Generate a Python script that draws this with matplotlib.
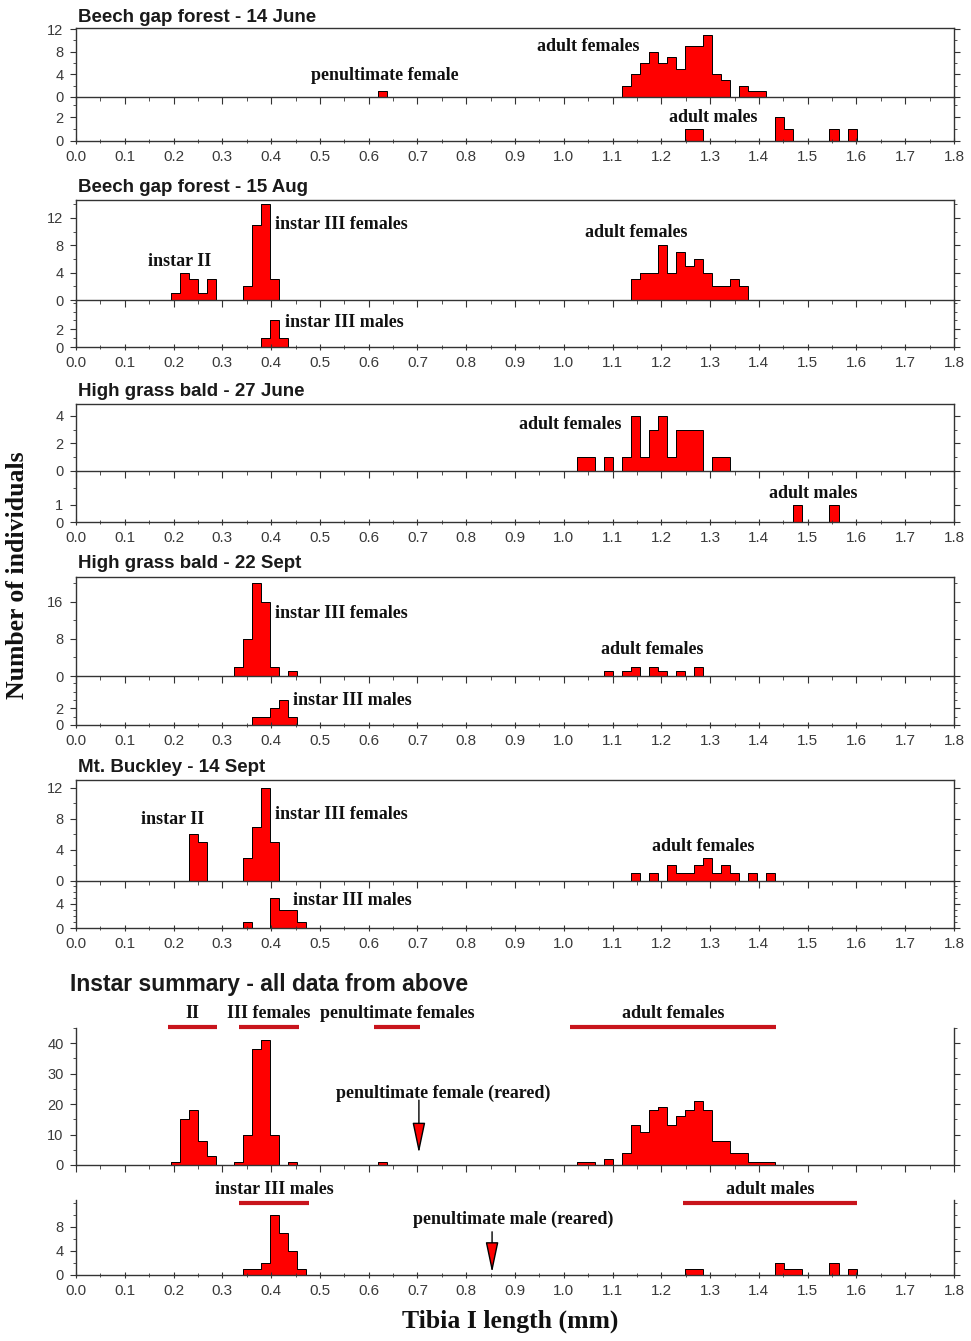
import numpy as np
import matplotlib
matplotlib.use('Agg')
import matplotlib.pyplot as plt
from matplotlib.ticker import MultipleLocator, FormatStrFormatter, NullFormatter

# Tibia lengths were measured in ocular micrometer units; one unit in mm
MM_PER_UNIT = 0.0185

##################################################
# Counts per micrometer unit (u = unit, n = individuals)
##################################################

# Beech gap forest - 14 June
bg_jun_fem_u = [34, 61, 62, 63, 64, 65, 66, 67, 68, 69, 70, 71, 72, 74, 75, 76]
bg_jun_fem_n = [1, 2, 4, 6, 8, 6, 7, 5, 9, 9, 11, 4, 3, 2, 1, 1]
bg_jun_mal_u = [68, 69, 78, 79, 84, 86]
bg_jun_mal_n = [1, 1, 2, 1, 1, 1]

# Beech gap forest - 15 Aug
bg_aug_fem_u = [11, 12, 13, 14, 15, 19, 20, 21, 22,
                62, 63, 64, 65, 66, 67, 68, 69, 70, 71, 72, 73, 74]
bg_aug_fem_n = [1, 4, 3, 1, 3, 2, 11, 14, 3,
                3, 4, 4, 8, 4, 7, 5, 6, 4, 2, 2, 3, 2]
bg_aug_mal_u = [21, 22, 23]
bg_aug_mal_n = [1, 3, 1]

# High grass bald - 27 June
hg_jun_fem_u = [56, 57, 59, 61, 62, 63, 64, 65, 66, 67, 68, 69, 71, 72]
hg_jun_fem_n = [1, 1, 1, 1, 4, 1, 3, 4, 1, 3, 3, 3, 1, 1]
hg_jun_mal_u = [80, 84]
hg_jun_mal_n = [1, 1]

# High grass bald - 22 Sept
hg_sep_fem_u = [18, 19, 20, 21, 22, 24, 59, 61, 62, 64, 65, 67, 69]
hg_sep_fem_n = [2, 8, 20, 16, 2, 1, 1, 1, 2, 2, 1, 1, 2]
hg_sep_mal_u = [20, 21, 22, 23, 24]
hg_sep_mal_n = [1, 1, 2, 3, 1]

# Mt. Buckley - 14 Sept
mb_sep_fem_u = [13, 14, 19, 20, 21, 22,
                62, 64, 66, 67, 68, 69, 70, 71, 72, 73, 75, 77]
mb_sep_fem_n = [6, 5, 3, 7, 12, 5,
                1, 1, 2, 1, 1, 2, 3, 1, 2, 1, 1, 1]
mb_sep_mal_u = [19, 22, 23, 24, 25]
mb_sep_mal_n = [1, 5, 3, 3, 1]

# Instar summary - all data
sum_fem_u = [11, 12, 13, 14, 15, 18, 19, 20, 21, 22, 24, 34, 56, 57, 59,
             61, 62, 63, 64, 65, 66, 67, 68, 69, 70, 71, 72, 73, 74, 75, 76, 77]
sum_fem_n = [1, 15, 18, 8, 3, 1, 10, 38, 41, 10, 1, 1, 1, 1, 2,
             4, 13, 11, 18, 19, 13, 16, 18, 21, 18, 8, 8, 4, 4, 1, 1, 1]
sum_mal_u = [19, 20, 21, 22, 23, 24, 25, 68, 69, 78, 79, 80, 84, 86]
sum_mal_n = [1, 1, 2, 10, 7, 4, 1, 1, 1, 2, 1, 1, 2, 1]

# Instar size ranges (mm) marked over the summary
fem_ranges = [('II', 0.189, 0.289), ('III females', 0.334, 0.457),
              ('penultimate females', 0.611, 0.706), ('adult females', 1.013, 1.435)]
mal_ranges = [('instar III males', 0.334, 0.478), ('adult males', 1.244, 1.602)]
reared_female_mm = 0.703
reared_male_mm = 0.853

##################################################
# Figure layout (pixel based)
##################################################
W, H = 971, 1341
fig = plt.figure(figsize=(W / 100, H / 100), dpi=100)

SANS = 'Liberation Sans'
SERIF = 'Liberation Serif'
TICK_COL = '#3a3a3a'
LEFT, RIGHT = 76, 954
ARROW = dict(arrowstyle='-|>,head_width=0.4,head_length=1.9',
             fc='#ff0000', ec='black', lw=1.0, shrinkA=0, shrinkB=0)


def make_axes(top, bottom):
    ax = fig.add_axes([LEFT / W, 1 - bottom / H, (RIGHT - LEFT) / W, (bottom - top) / H])
    ax.patch.set_alpha(0)
    return ax


def draw_hist(ax, units, counts):
    lo, hi = min(units), max(units)
    dense = np.zeros(hi - lo + 1)
    dense[np.array(units) - lo] = counts
    edges = (np.arange(lo, hi + 2) - 0.5) * MM_PER_UNIT
    ax.stairs(dense, edges, fill=True, color='#ff0000', lw=0)
    ax.stairs(dense, edges, color='black', lw=0.7, baseline=0)


def style_axes(ax, ymax, yticks, ystep, show_xlabels, upper, top_spine=True):
    ax.set_xlim(0, 1.8)
    ax.set_ylim(0, ymax)
    ax.set_yticks(yticks)
    ax.yaxis.set_minor_locator(MultipleLocator(ystep))
    ax.xaxis.set_major_locator(MultipleLocator(0.1))
    ax.xaxis.set_minor_locator(MultipleLocator(0.05))
    if show_xlabels:
        ax.xaxis.set_major_formatter(FormatStrFormatter('%.1f'))
    else:
        ax.xaxis.set_major_formatter(NullFormatter())
    for s in ax.spines.values():
        s.set_color('#333333')
        s.set_linewidth(1.0)
    ax.spines['top'].set_visible(top_spine)
    ax.tick_params(axis='y', which='both', left=True, right=True, direction='out',
                   labelsize=10.5, labelcolor=TICK_COL, color='#333333', pad=5)
    ax.tick_params(axis='y', which='major', length=4)
    ax.tick_params(axis='y', which='minor', length=2.5)
    ax.tick_params(axis='x', which='both', direction='out' if upper else 'inout',
                   labelsize=11, labelcolor=TICK_COL, color='#333333', pad=4)
    ax.tick_params(axis='x', which='major', length=5)
    ax.tick_params(axis='x', which='minor', length=3)
    for lab in ax.get_xticklabels() + ax.get_yticklabels():
        lab.set_fontfamily(SANS)


def label(ax, x, y, s, ha='center', size=13):
    ax.text(x, y, s, ha=ha, va='center', fontsize=size, fontfamily=SERIF,
            fontweight='bold', color='#111111', clip_on=False)


def title(y, s, size=13.5, x=78):
    fig.text(x / W, 1 - y / H, s, ha='left', va='center', fontsize=size,
             fontfamily=SANS, fontweight='bold', color='#1a1a1a')


##################################################
# Beech gap forest - 14 June
##################################################
title(17, 'Beech gap forest - 14 June')
ax = make_axes(28, 97)
draw_hist(ax, bg_jun_fem_u, bg_jun_fem_n)
style_axes(ax, 12.2, [0, 4, 8, 12], 2, False, True)
label(ax, 0.633, 3.8, 'penultimate female')
label(ax, 1.05, 9.0, 'adult females')
ax = make_axes(97, 141)
draw_hist(ax, bg_jun_mal_u, bg_jun_mal_n)
style_axes(ax, 3.67, [0, 2], 1, True, False, top_spine=False)
label(ax, 1.306, 2.0, 'adult males')

##################################################
# Beech gap forest - 15 Aug
##################################################
title(188, 'Beech gap forest - 15 Aug')
ax = make_axes(200, 300)
draw_hist(ax, bg_aug_fem_u, bg_aug_fem_n)
style_axes(ax, 14.6, [0, 4, 8, 12], 2, False, True)
label(ax, 0.408, 11.0, 'instar III females', ha='left')
label(ax, 0.213, 5.6, 'instar II')
label(ax, 1.148, 9.8, 'adult females')
ax = make_axes(300, 347)
draw_hist(ax, bg_aug_mal_u, bg_aug_mal_n)
style_axes(ax, 5.3, [0, 2], 1, True, False, top_spine=False)
label(ax, 0.428, 2.8, 'instar III males', ha='left')

##################################################
# High grass bald - 27 June
##################################################
title(391, 'High grass bald - 27 June')
ax = make_axes(404, 471)
draw_hist(ax, hg_jun_fem_u, hg_jun_fem_n)
style_axes(ax, 4.87, [0, 2, 4], 1, False, True)
label(ax, 1.013, 3.35, 'adult females')
ax = make_axes(471, 522)
draw_hist(ax, hg_jun_mal_u, hg_jun_mal_n)
style_axes(ax, 3.0, [0, 1], 1, True, False, top_spine=False)
label(ax, 1.511, 1.7, 'adult males')

##################################################
# High grass bald - 22 Sept
##################################################
title(564, 'High grass bald - 22 Sept')
ax = make_axes(577, 676)
draw_hist(ax, hg_sep_fem_u, hg_sep_fem_n)
style_axes(ax, 21.4, [0, 8, 16], 4, False, True)
label(ax, 0.408, 13.6, 'instar III females', ha='left')
label(ax, 1.181, 5.8, 'adult females')
ax = make_axes(676, 725)
draw_hist(ax, hg_sep_mal_u, hg_sep_mal_n)
style_axes(ax, 5.9, [0, 2], 1, True, False, top_spine=False)
label(ax, 0.445, 3.0, 'instar III males', ha='left')

##################################################
# Mt. Buckley - 14 Sept
##################################################
title(768, 'Mt. Buckley - 14 Sept')
ax = make_axes(780, 881)
draw_hist(ax, mb_sep_fem_u, mb_sep_fem_n)
style_axes(ax, 13.0, [0, 4, 8, 12], 2, False, True)
label(ax, 0.199, 7.9, 'instar II')
label(ax, 0.408, 8.5, 'instar III females', ha='left')
label(ax, 1.285, 4.5, 'adult females')
ax = make_axes(881, 928)
draw_hist(ax, mb_sep_mal_u, mb_sep_mal_n)
style_axes(ax, 7.8, [0, 4], 1, True, False, top_spine=False)
label(ax, 0.445, 4.5, 'instar III males', ha='left')

##################################################
# Instar summary - all data from above
##################################################
title(985, 'Instar summary - all data from above', size=16.5, x=70)
ax = make_axes(1028, 1165)
draw_hist(ax, sum_fem_u, sum_fem_n)
style_axes(ax, 45, [0, 10, 20, 30, 40], 5, False, True, top_spine=False)
for name, lo, hi in fem_ranges:
    ax.plot([lo, hi], [45.2, 45.2], color='#c8141c', lw=3, solid_capstyle='butt', clip_on=False)
    label(ax, (lo + hi) / 2, 49.7, name)
label(ax, 0.752, 23.6, 'penultimate female (reared)')
ax.annotate('', xy=(reared_female_mm, 3.9), xytext=(reared_female_mm, 21.3), arrowprops=ARROW)

ax = make_axes(1200, 1275)
draw_hist(ax, sum_mal_u, sum_mal_n)
style_axes(ax, 12.5, [0, 4, 8], 2, True, False, top_spine=False)
for name, lo, hi in mal_ranges:
    ax.plot([lo, hi], [12.0, 12.0], color='#c8141c', lw=3, solid_capstyle='butt', clip_on=False)
    label(ax, (lo + hi) / 2, 14.2, name)
label(ax, 0.896, 9.3, 'penultimate male (reared)')
ax.annotate('', xy=(reared_male_mm, 0.4), xytext=(reared_male_mm, 7.2), arrowprops=ARROW)

# Shared axis titles
fig.text(18 / W, 1 - 575 / H, 'Number of individuals', rotation=90, ha='center', va='center',
         fontsize=18.5, fontfamily=SERIF, fontweight='bold', color='#111111')
fig.text(510 / W, 1 - 1321 / H, 'Tibia I length (mm)', ha='center', va='center',
         fontsize=18.5, fontfamily=SERIF, fontweight='bold', color='#111111')

fig.savefig('out.png', dpi=100)
